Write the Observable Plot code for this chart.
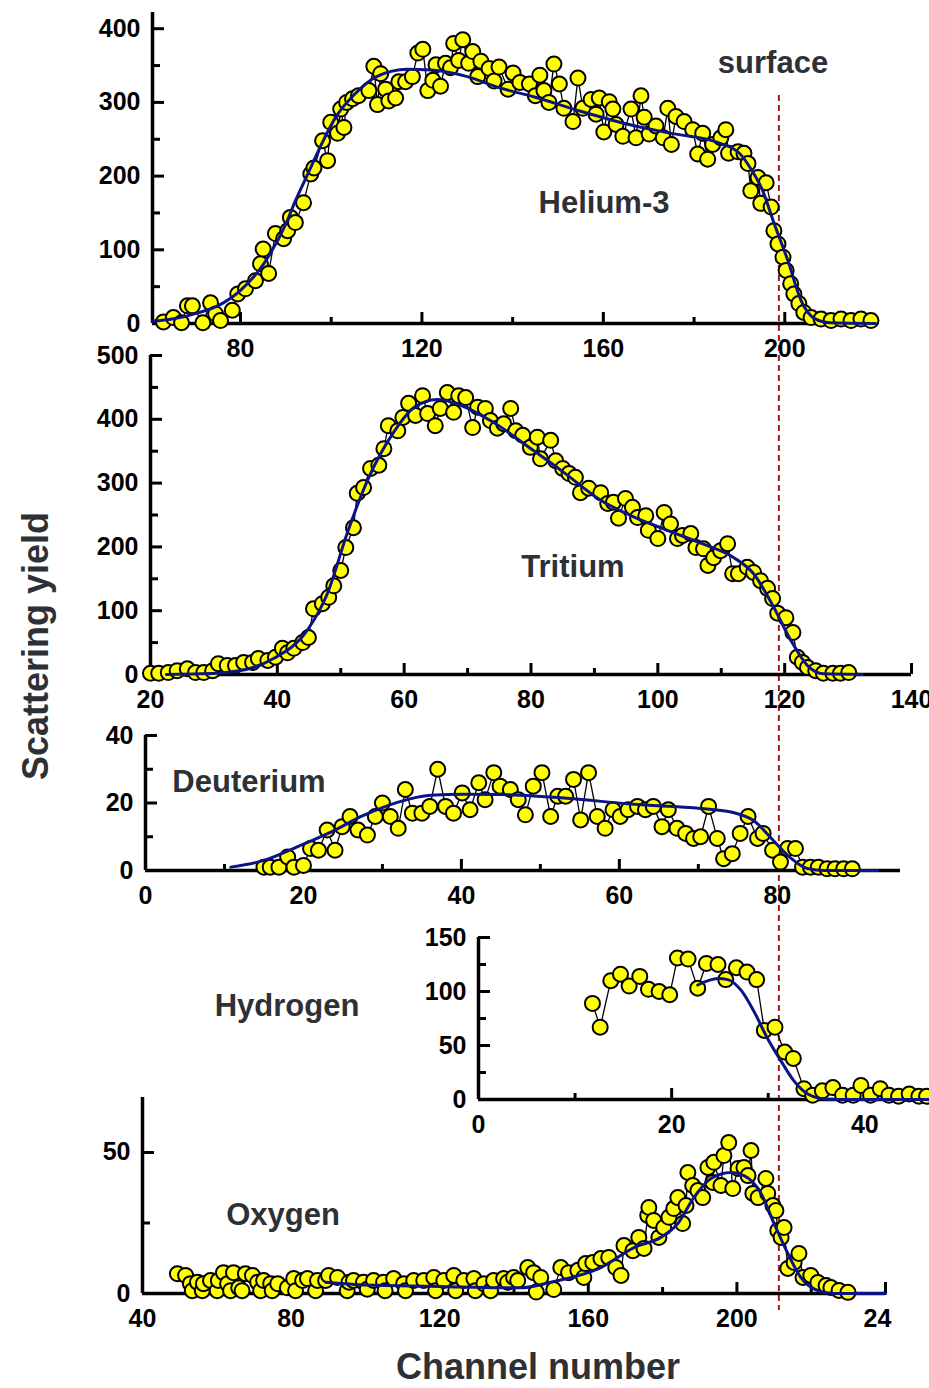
<!DOCTYPE html>
<html><head><meta charset="utf-8">
<script src="https://cdn.jsdelivr.net/npm/d3@7"></script>
<script src="https://cdn.jsdelivr.net/npm/@observablehq/plot@0.6"></script>
<style>
html,body{margin:0;padding:0;background:#fff;overflow:hidden}
#fig{position:relative;width:929px;height:1388px;overflow:hidden;font-family:"Liberation Sans",Arial,sans-serif;font-weight:bold}
.lbl{position:absolute;white-space:nowrap;line-height:1;color:#2d3135;transform:translateX(-50%)}
</style></head><body><div id="fig"></div>
<script>
// ---------- DATA (channel, yield) ----------
const heData = [[63,2],[65.2,8],[67,1],[68.3,24],[69.4,24],[71.7,1],[73.4,28],[74.5,13],[75.6,4],[78.2,18],[79.4,40],[81.1,47],[83.3,58],[84.4,81],[85,101],[86.2,68],[87.7,122],[89.5,115],[90.4,126],[91,144],[92.1,137],[93.9,164],[95.5,203],[96.2,211],[98.1,248],[99.2,221],[99.9,273],[101.4,258],[102.1,291],[102.8,266],[103.4,300],[104.7,305],[106,309],[108.3,316],[109.4,349],[110.2,297],[110.9,339],[112,318],[112.7,302],[114.2,306],[114.9,328],[116.4,328],[117.9,335],[119.1,367],[120.2,372],[121.3,316],[122.4,330],[123.1,351],[124.1,322],[125.2,353],[126.3,347],[127,380],[128.1,357],[129,385],[130.3,353],[131.2,369],[132.3,335],[133,356],[134.8,346],[135.9,329],[137,348],[139,318],[140.1,340],[141.6,327],[143.7,325],[145,309],[146,337],[146.9,316],[148,300],[149.1,352],[150.3,325],[151.3,292],[153.3,274],[154.4,333],[155.5,292],[157.3,304],[158.4,284],[159.1,306],[160.1,260],[161.3,301],[162.1,291],[162.8,270],[164.3,254],[166.1,291],[167.2,252],[168.3,309],[169,280],[170.1,257],[171.6,268],[173.2,252],[174.2,292],[175,243],[176,281],[177.8,274],[179.7,263],[180.8,230],[181.9,258],[183,223],[184.1,243],[185.9,252],[187,263],[187.6,231],[189.7,233],[191,231],[191.9,217],[192.5,180],[194.1,198],[194.7,163],[195.9,191],[197,158],[197.6,126],[198.5,108],[199.6,90],[200.3,72],[201.3,54],[202,40],[203.1,27],[204.2,15],[205.8,8],[208,6],[210.2,4],[212.4,6],[214.6,4],[216.8,6],[219,4]];
const heFit = [[60.6,3],[65,6],[71,15],[75,24],[80,45],[85,80],[90,135],[92,165],[95,205],[98,245],[101,280],[105,310],[110,335],[116.8,345],[122,344],[130,335],[137,320],[145,307],[155,288],[167,268],[175,258],[185,246],[190,231],[193,205],[195,182],[197.7,135],[200.7,85],[203.6,31],[206.5,7],[210,1],[220,0]];

const trData = [[20,2],[21.3,2],[22.8,3],[24.2,6],[25.8,9],[27.1,3],[28.4,3],[29.8,6],[30.7,17],[32.1,14],[33.4,14],[34.7,19],[36.1,19],[37,25],[38.5,22],[39.7,27],[40.8,41],[41.6,34],[42.6,41],[44,50],[44.9,58],[45.7,103],[47.1,111],[48.1,121],[48.9,139],[50,163],[50.8,199],[52,230],[52.6,284],[53.6,293],[54.7,323],[56,328],[56.8,354],[57.5,390],[59,382],[59.8,403],[60.7,425],[61.8,406],[62.9,437],[63.7,409],[64.9,390],[65.7,417],[66.8,442],[67.8,411],[68.6,437],[69.7,434],[70.8,387],[71.6,419],[72.8,417],[73.6,398],[74.7,386],[75.7,393],[76.8,417],[77.6,382],[78.7,375],[79.9,356],[81,372],[81.5,338],[83.1,367],[83.9,335],[85,323],[86,315],[87,309],[87.8,285],[89.1,292],[91,285],[92.1,268],[93,270],[93.8,245],[94.9,276],[96,262],[96.8,246],[98.1,249],[98.5,226],[100,213],[101,254],[102,236],[103.1,213],[103.9,218],[105.2,221],[106,199],[107.2,197],[107.9,171],[108.8,183],[109.9,194],[111,205],[111.8,158],[112.7,158],[114.1,168],[115.1,160],[116.2,147],[117.3,135],[118.1,119],[118.9,96],[120.2,89],[121.3,66],[122,27],[122.8,19],[123.6,11],[124.9,6],[126.1,2],[127.6,2],[128.8,2],[130.1,3]];
const trFit = [[22.5,0],[28,1],[34,6],[39.4,25],[44.7,69],[47.9,127],[51,221],[54.2,304],[58.3,379],[61.5,418],[65.2,431],[68.9,422],[73.6,398],[80.4,351],[85,318],[91,273],[96,248],[101.5,226],[107,205],[112,183],[115.1,158],[118.3,105],[121,53],[123.6,14],[126.1,1],[132.3,0]];

const dData = [[15,1],[15.8,1],[16.9,1],[18,4],[18.8,1],[20,1.5],[20.9,6.5],[21.9,6],[23,12],[24,6],[24.9,13],[25.9,16],[26.9,12],[28.1,10.5],[29.1,16],[30,20],[31,16],[32,12.5],[32.9,24],[33.8,17],[35,17],[36,19],[37,30],[38,19],[39,17],[40.1,23],[41.1,18],[42.2,26],[43,21],[44.1,29],[44.9,25],[46.2,24],[47.2,21],[48.1,16.5],[49.1,25],[50.2,29],[51.3,16],[52.2,22],[53.2,22],[54.2,27],[55.1,15],[56.1,29],[57.2,16],[58.2,12.5],[59.2,18],[60.1,16],[61.1,18],[62.3,19],[63.3,18],[64.3,19],[65.4,13],[66.2,18],[67.3,12.5],[68.4,11],[69.4,9.5],[70.3,10],[71.3,19],[72.4,9.5],[73.2,3.5],[74.3,5],[75.3,11],[76.3,16],[77.5,9.5],[78.2,11],[79.4,6],[80.4,2.5],[81.3,6.5],[82.3,6.5],[83.2,1],[84.2,1],[85.2,1],[86.3,0.5],[87.3,0.5],[88.4,0.5],[89.5,0.5]];
const dFit = [[10.8,1],[15,3],[19.2,7],[23.4,11.3],[27.6,16.3],[31.9,20.2],[36.1,22.3],[40.3,22.6],[44.9,22.5],[53.4,21.4],[61.8,19.6],[70.3,18.4],[74.4,17.2],[77,14.8],[79.5,8.9],[81.6,3.9],[83.8,0.6],[86,0],[92.7,0]];

const hData = [[11.8,89],[12.6,67],[13.7,110],[14.7,116],[15.6,105],[16.7,114],[17.6,102],[18.7,100],[19.8,97],[20.6,131],[21.7,130],[22.7,103],[23.6,126],[24.8,125],[25.6,111],[26.7,122],[27.8,118],[28.8,111],[29.6,64],[30.7,67],[31.7,44],[32.6,38],[33.7,10],[34.6,4],[35.6,8],[36.7,11],[37.7,4],[38.8,4],[39.6,13],[40.6,4],[41.6,10],[42.5,4],[43.5,3],[44.6,5],[45.6,3],[46.4,3]];
const hFit = [[22.7,106],[24.8,112],[25.8,111],[27.2,101],[28.5,82],[29.9,57],[31.3,36],[32.6,18],[34.1,5],[35.4,1],[37,0],[46.7,0]];

const oData = [[49.4,7],[51.6,6.4],[52.9,3.5],[53.4,1],[54.8,4],[56.1,1],[56.4,3.5],[58.3,4.6],[60.1,1],[60.4,4.6],[61.8,7.4],[62.9,3.5],[63.7,1],[64.5,7.4],[65.9,2],[66.8,1],[67.7,7],[69.6,6.4],[71,4],[71.8,1],[72.6,4.6],[74.5,3.5],[74.9,1],[76.4,3.5],[79,2],[80.7,5.3],[81.2,1],[83.1,4.6],[84.4,5.3],[86.6,1],[87.1,4.6],[89.3,4.6],[90.1,6.4],[92.5,5.7],[95.1,1],[95.6,4],[96.8,4.6],[99.5,4],[100.5,1.5],[102.2,4.6],[104.9,4],[105.3,1],[107.6,5.3],[110.3,3.5],[110.8,1],[113,4.6],[115.7,4.6],[118.4,5.7],[118.9,1],[121.1,4.6],[123.8,6.4],[124.3,1],[126.5,4.6],[129.2,5.3],[129.6,1],[131.9,3.5],[133.7,1],[134.5,4.6],[137.2,5.3],[138.3,4],[139.9,5.7],[141,4.6],[143.7,9.2],[145.3,7.4],[146,0.5],[147.2,5.7],[150.7,1.4],[152.6,9.2],[154.7,7.4],[157.2,8.2],[158.8,5.7],[159.3,10.6],[161.2,11],[163.4,12.4],[165.5,12.8],[167.4,9.2],[168.8,6.4],[169.6,17],[172,15.2],[173.6,19.9],[175,16],[176,27.7],[176.3,30.5],[177.6,25.9],[179,19.9],[180.3,23.4],[181.7,27],[183,30.1],[184.1,34],[185.4,24.8],[186.3,31.2],[186.8,42.9],[188.1,38.3],[189.5,36.5],[190.8,34],[192.2,44.7],[193.5,39.4],[193.8,46.5],[195.7,38.3],[196.5,48.9],[197.8,53.5],[198.9,37.2],[200.3,44.3],[201.9,44.7],[203,41.8],[203.8,50.7],[204.3,35.5],[205.7,34],[207.8,40.8],[208.3,35.5],[209.7,31.2],[210.5,29.4],[211,22.3],[211.9,19.9],[212.7,23.4],[213.7,8.9],[215.4,11],[216.7,14.2],[217.8,5.7],[219.9,6.4],[221.8,3.9],[224,2.8],[225.3,2.1],[227.5,1.1],[229.9,0.4]];
const oFit = [[89.3,4],[100,3],[120,2.5],[136.4,2],[141.8,2],[149.9,4],[163.4,9.2],[172.3,16.3],[179.5,19.9],[184.1,24.8],[188.4,34],[193,40.8],[198.4,42.9],[201.9,41.8],[206.5,35.5],[210,24.8],[213.7,14.2],[217.2,5.7],[221.8,1],[226,0],[240,0]];

// tick values
const heXLabels = [80,120,160,200], heXMinor = [100,140,180], heYLabels = [0,100,200,300,400], heYMinor = [50,150,250,350];
const trXLabels = [20,40,60,80,100,120,140], trXMinor = [30,50,70,90,110,130], trYLabels = [0,100,200,300,400,500], trYMinor = [50,150,250,350,450];
const dXLabels = [0,20,40,60,80], dXMinor = [10,30,50,70,90], dYLabels = [0,20,40], dYMinor = [10,30];
const hXLabels = [0,20,40], hXMinor = [10,30], hYLabels = [0,50,100,150], hYMinor = [25,75,125];
const oXLabels = [40,80,120,160,200], oXMinor = [60,100,140,180,220], oYLabels = [0,50], oYMinor = [25];
const oLastTick = [240];
const surfaceChannelHe = 198.7;

const names = {surface:"surface", he:"Helium-3", tr:"Tritium", d:"Deuterium", h:"Hydrogen", o:"Oxygen", xTitle:"Channel number", yTitle:"Scattering yield"};

// ---------- DRAW ----------
const fig = document.getElementById("fig");
const FONT = '"Liberation Sans", Arial, sans-serif';
const W = 929;

function place(svg, top) {
  svg.style.position = "absolute";
  svg.style.left = "0px";
  svg.style.top = top + "px";
  fig.appendChild(svg);
}

// surface dashed line (behind panels), using Helium-3 channel scale
place(Plot.plot({
  width: W, height: 1388,
  marginLeft: 152, marginRight: W - 875, marginTop: 95, marginBottom: 1388 - 1310,
  x: {domain: [60.6, 220], axis: null}, y: {domain: [0, 1], axis: null},
  style: {background: "transparent", overflow: "visible"},
  marks: [Plot.ruleX([surfaceChannelHe], {stroke: "#a11d1d", strokeWidth: 2, strokeDasharray: "6,4"})]
}), 0);

function panel(c) {
  const T = c.top - 25;
  const H = c.bottom - T + 50;
  const fw = c.right - c.left, fh = c.bottom - c.top;
  const pts = c.data.map(([x, y]) => ({x, y}));
  const fit = c.fit.map(([x, y]) => ({x, y}));
  const txt = {tickSize: 0, fontSize: 25, fontWeight: "bold", label: null};
  const marks = [
    Plot.ruleX([c.xDomain[0]], {stroke: "black", strokeWidth: 3.5}),
    Plot.ruleY([c.yDomain[0]], {stroke: "black", strokeWidth: 3.5}),
    Plot.ruleX(c.xLabels.filter(v => v !== c.xDomain[0]), {stroke: "black", strokeWidth: 3, insetTop: fh - 11}),
    Plot.ruleX(c.xMinor, {stroke: "black", strokeWidth: 3, insetTop: fh - 6}),
    Plot.ruleY(c.yLabels.filter(v => v !== c.yDomain[0]), {stroke: "black", strokeWidth: 3, insetRight: fw - 12}),
    Plot.ruleY(c.yMinor, {stroke: "black", strokeWidth: 3, insetRight: fw - 8}),
    Plot.axisX({...txt, ticks: c.xLabels, tickPadding: 16}),
    Plot.axisY({...txt, ticks: c.yLabels, tickPadding: 12})
  ];
  if (c.extra) marks.push(...c.extra(fh, txt));
  marks.push(
    Plot.line(pts, {x: "x", y: "y", stroke: "black", strokeWidth: 1.3}),
    Plot.dot(pts, {x: "x", y: "y", r: 7.5, fill: "#ffff00", stroke: "black", strokeWidth: 2}),
    Plot.line(fit, {x: "x", y: "y", stroke: "#0c1484", strokeWidth: 3, curve: "monotone-x"})
  );
  const svg = Plot.plot({
    width: W, height: H,
    marginLeft: c.left, marginRight: W - c.right, marginTop: c.top - T, marginBottom: H - (c.bottom - T),
    x: {domain: c.xDomain}, y: {domain: c.yDomain},
    style: {background: "transparent", overflow: "visible", fontFamily: FONT, fontWeight: "bold", fontSize: "25px", color: "black"},
    marks
  });
  place(svg, T);
}

panel({top: 12, bottom: 323, left: 152, right: 875, xDomain: [60.6, 220], yDomain: [0, 422],
  data: heData, fit: heFit, xLabels: heXLabels, xMinor: heXMinor, yLabels: heYLabels, yMinor: heYMinor});
panel({top: 355, bottom: 674, left: 150, right: 911, xDomain: [20, 140], yDomain: [0, 500],
  data: trData, fit: trFit, xLabels: trXLabels, xMinor: trXMinor, yLabels: trYLabels, yMinor: trYMinor});
panel({top: 735, bottom: 870, left: 145, right: 900, xDomain: [0, 95.6], yDomain: [0, 40],
  data: dData, fit: dFit, xLabels: dXLabels, xMinor: dXMinor, yLabels: dYLabels, yMinor: dYMinor});
panel({top: 937, bottom: 1099, left: 478, right: 929, xDomain: [0, 46.7], yDomain: [0, 150],
  data: hData, fit: hFit, xLabels: hXLabels, xMinor: hXMinor, yLabels: hYLabels, yMinor: hYMinor});
panel({top: 1097, bottom: 1293, left: 142, right: 885, xDomain: [40, 240], yDomain: [0, 69.5],
  data: oData, fit: oFit, xLabels: oXLabels, xMinor: oXMinor, yLabels: oYLabels, yMinor: oYMinor,
  extra: (fh, txt) => [
    Plot.ruleX(oLastTick, {stroke: "black", strokeWidth: 3, insetTop: fh - 11}),
    Plot.axisX({...txt, ticks: oLastTick, tickPadding: 16, dx: -8, tickFormat: d => String(d).slice(0, 2)})
  ]});

// ---------- TEXT LABELS ----------
function label(text, cx, baseline, size) {
  const d = document.createElement("div");
  d.className = "lbl";
  d.textContent = text;
  d.style.fontSize = size + "px";
  d.style.left = cx + "px";
  d.style.top = (baseline - 0.8465 * size) + "px";
  fig.appendChild(d);
  return d;
}
label(names.surface, 773, 73, 31);
label(names.he, 604, 213, 31);
label(names.tr, 573, 577, 31);
label(names.d, 249, 792, 31);
label(names.h, 287, 1016, 31);
label(names.o, 283, 1225, 31);
label(names.xTitle, 538, 1379, 36);
const yt = label(names.yTitle, 36, 0, 36);
yt.style.top = "646px";
yt.style.transform = "translate(-50%,-50%) rotate(-90deg)";
</script></body></html>
